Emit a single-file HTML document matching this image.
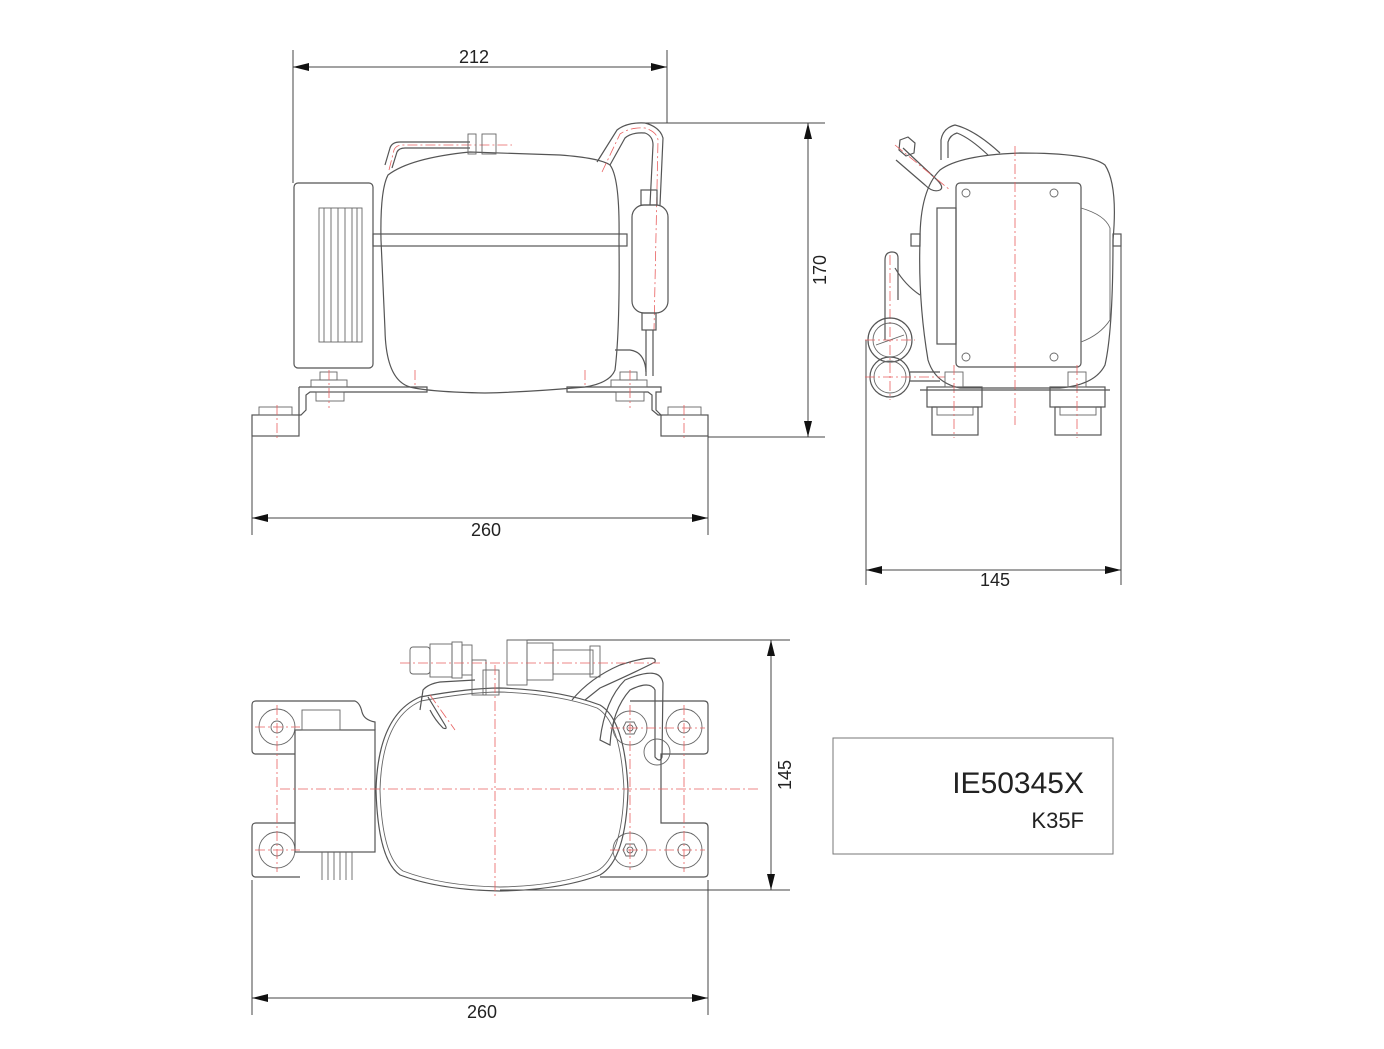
<!DOCTYPE html>
<html><head><meta charset="utf-8"><style>
html,body{margin:0;padding:0;background:#fff;}
svg{display:block;}
.l{fill:none;stroke:#555;stroke-width:1.2;}
.t{fill:none;stroke:#666;stroke-width:0.9;}
.c{fill:none;stroke:#e86060;stroke-width:0.8;stroke-dasharray:10 3 2 3;}
.d{fill:none;stroke:#444;stroke-width:1;}
text{font-family:"Liberation Sans",sans-serif;fill:#222;}
</style></head><body>
<svg width="1384" height="1049" viewBox="0 0 1384 1049" xmlns="http://www.w3.org/2000/svg">
<defs>
<marker id="a" markerWidth="16" markerHeight="8" refX="16" refY="4" orient="auto" markerUnits="userSpaceOnUse"><path d="M0,0 L16,4 L0,8 z" fill="#111"/></marker>
<marker id="b" markerWidth="16" markerHeight="8" refX="0" refY="4" orient="auto" markerUnits="userSpaceOnUse"><path d="M16,0 L0,4 L16,8 z" fill="#111"/></marker>
</defs>

<!-- ============ FRONT VIEW ============ -->
<!-- dims -->
<line class="d" x1="293" y1="50" x2="293" y2="183"/>
<line class="d" x1="667" y1="50" x2="667" y2="123"/>
<line class="d" x1="293" y1="67" x2="667" y2="67" marker-start="url(#b)" marker-end="url(#a)"/>
<text x="474" y="63" font-size="18" text-anchor="middle">212</text>
<line class="d" x1="640" y1="123" x2="825" y2="123"/>
<line class="d" x1="708" y1="437" x2="825" y2="437"/>
<line class="d" x1="808" y1="123" x2="808" y2="437" marker-start="url(#b)" marker-end="url(#a)"/>
<text transform="translate(826,270) rotate(-90)" font-size="18" text-anchor="middle">170</text>
<line class="d" x1="252" y1="415" x2="252" y2="535"/>
<line class="d" x1="708" y1="415" x2="708" y2="535"/>
<line class="d" x1="252" y1="518" x2="708" y2="518" marker-start="url(#b)" marker-end="url(#a)"/>
<text x="486" y="536" font-size="18" text-anchor="middle">260</text>

<!-- terminal box -->
<rect class="l" x="294" y="183" width="79" height="185" rx="4"/>
<rect class="t" x="319" y="208" width="43" height="134"/>
<line class="t" x1="324" y1="208" x2="324" y2="342"/><line class="t" x1="331" y1="208" x2="331" y2="342"/>
<line class="t" x1="338" y1="208" x2="338" y2="342"/><line class="t" x1="345" y1="208" x2="345" y2="342"/>
<line class="t" x1="352" y1="208" x2="352" y2="342"/><line class="t" x1="357" y1="208" x2="357" y2="342"/>
<!-- body -->
<path class="l" d="M388,175 Q410,158 470,152 L560,155 Q600,158 610,165 Q620,178 619,240 Q620,330 615,370 Q610,383 585,387 Q530,392 485,393 Q430,392 410,387 Q386,380 385,330 L381,240 Q380,190 388,175 Z"/>
<rect class="l" x="373" y="234" width="254" height="12"/>
<!-- top pipe + fitting -->
<path class="l" d="M385,165 L390,148 Q392,142 400,142 L470,142"/>
<path class="l" d="M392,168 L397,152 Q399,148 405,148 L470,148"/>
<path class="c" d="M389,170 L394,150 Q396,145 403,145 L512,145"/>
<rect class="t" x="468" y="134" width="8" height="20"/>
<rect class="t" x="482" y="134" width="14" height="20" fill="#ddd"/>
<!-- discharge pipe right -->
<path class="l" d="M597,162 L617,130 Q627,122 645,123 Q660,127 663,138 L660,205"/>
<path class="l" d="M610,165 L625,138 Q632,132 645,133 Q653,136 653,145 L650,205"/>
<path class="c" d="M602,172 L620,134 Q630,127 645,128 Q657,132 658,140 L654,330"/>
<!-- filter drier -->
<rect class="l" x="641" y="190" width="16" height="15"/>
<rect class="l" x="632" y="205" width="36" height="108" rx="12"/>
<rect class="l" x="642" y="313" width="14" height="17"/>
<path class="l" d="M646,330 L646,376 M653,330 L653,376"/>
<path class="l" d="M615,350 L630,350 Q645,352 646,372"/>
<!-- feet -->
<path class="l" d="M299,387 L427,387 L427,392 L310,392 L306,395 L306,410 L301,415 L299,415 L299,387"/>
<path class="l" d="M567,387 L661,387 L661,392 L656,392 L656,410 L661,415 L658,415 L652,410 L652,395 L648,392 L567,392 Z"/>
<rect class="t" x="311" y="380" width="36" height="7"/><rect class="t" x="320" y="372" width="17" height="8"/>
<rect class="t" x="316" y="392" width="28" height="9"/>
<rect class="t" x="611" y="380" width="36" height="7"/><rect class="t" x="620" y="372" width="17" height="8"/>
<rect class="t" x="616" y="392" width="28" height="9"/>
<rect class="l" x="252" y="415" width="47" height="21"/><rect class="t" x="259" y="407" width="33" height="8"/>
<rect class="l" x="661" y="415" width="47" height="21"/><rect class="t" x="668" y="407" width="33" height="8"/>
<line class="c" x1="277" y1="405" x2="277" y2="440"/><line class="c" x1="684" y1="405" x2="684" y2="440"/>
<line class="c" x1="329" y1="370" x2="329" y2="408"/><line class="c" x1="630" y1="370" x2="630" y2="408"/>
<line class="c" x1="415" y1="370" x2="415" y2="386"/><line class="c" x1="585" y1="370" x2="585" y2="386"/>

<!-- ============ SIDE VIEW ============ -->
<line class="d" x1="866" y1="340" x2="866" y2="585"/>
<line class="d" x1="1121" y1="246" x2="1121" y2="585"/>
<line class="d" x1="866" y1="570" x2="1121" y2="570" marker-start="url(#b)" marker-end="url(#a)"/>
<text x="995" y="586" font-size="18" text-anchor="middle">145</text>
<path class="l" d="M940,170 Q960,155 1020,153 Q1090,153 1105,165 Q1118,185 1113,240 Q1113,330 1105,365 Q1095,385 1060,388 L960,388 Q935,383 928,360 Q918,300 920,240 Q920,190 940,170 Z"/>
<rect class="l" x="937" y="208" width="19" height="136"/>
<rect class="l" x="956" y="183" width="125" height="184" rx="4"/>
<circle class="t" cx="966" cy="193" r="4"/><circle class="t" cx="1054" cy="193" r="4"/>
<circle class="t" cx="966" cy="357" r="4"/><circle class="t" cx="1054" cy="357" r="4"/>
<path class="t" d="M1081,208 Q1105,215 1110,228 L1110,320 Q1100,335 1081,342"/>
<rect class="l" x="911" y="234" width="9" height="12"/><rect class="l" x="1113" y="234" width="8" height="12"/>
<path class="l" d="M941,160 L941,140 Q943,128 955,125 Q975,130 1000,153"/>
<path class="l" d="M948,158 L948,142 Q950,135 957,133 Q970,138 988,155"/>
<line class="c" x1="1015" y1="146" x2="1015" y2="425"/>
<path class="l" d="M903,148 L935,178 Q945,187 940,190 Q933,193 925,185 L896,160"/>
<polygon class="l" points="900,140 908,137 915,143 914,153 906,156 899,150"/>
<line class="c" x1="895" y1="145" x2="950" y2="190"/>
<path class="l" d="M885,340 L885,260 Q885,252 892,252 Q898,252 898,258 L898,300"/>
<path class="l" d="M895,268 Q905,285 920,295"/>
<line class="c" x1="890" y1="255" x2="890" y2="400"/>
<circle class="l" cx="890" cy="340" r="22"/><circle class="t" cx="890" cy="340" r="17"/>
<line class="t" x1="876" y1="345" x2="904" y2="335"/>
<circle class="l" cx="890" cy="377" r="20"/><circle class="t" cx="890" cy="377" r="16"/>
<line class="c" x1="865" y1="340" x2="915" y2="340"/><line class="c" x1="865" y1="377" x2="945" y2="377"/>
<line class="l" x1="910" y1="372" x2="940" y2="372"/><line class="l" x1="910" y1="381" x2="940" y2="381"/>
<rect class="l" x="927" y="387" width="55" height="20"/><rect class="l" x="932" y="407" width="46" height="28"/>
<rect class="t" x="937" y="407" width="36" height="8"/>
<rect class="l" x="1050" y="387" width="55" height="20"/><rect class="l" x="1055" y="407" width="46" height="28"/>
<rect class="t" x="1060" y="407" width="36" height="8"/>
<rect class="t" x="945" y="372" width="18" height="15"/><rect class="t" x="1068" y="372" width="18" height="15"/>
<line class="c" x1="954" y1="365" x2="954" y2="438"/><line class="c" x1="1077" y1="365" x2="1077" y2="438"/>
<line class="l" x1="920" y1="390" x2="1110" y2="390"/>

<!-- ============ TOP VIEW ============ -->
<line class="d" x1="507" y1="640" x2="790" y2="640"/>
<line class="d" x1="500" y1="890" x2="790" y2="890"/>
<line class="d" x1="771" y1="640" x2="771" y2="890" marker-start="url(#b)" marker-end="url(#a)"/>
<text transform="translate(791,775) rotate(-90)" font-size="18" text-anchor="middle">145</text>
<line class="d" x1="252" y1="880" x2="252" y2="1015"/>
<line class="d" x1="708" y1="880" x2="708" y2="1015"/>
<line class="d" x1="252" y1="998" x2="708" y2="998" marker-start="url(#b)" marker-end="url(#a)"/>
<text x="482" y="1018" font-size="18" text-anchor="middle">260</text>
<!-- brackets -->
<path class="l" d="M252,705 Q252,701 256,701 L355,701 Q360,703 362,712 Q364,720 375,722 L375,730 M252,705 L252,750 Q252,754 256,754 L295,754"/>
<path class="l" d="M252,827 Q252,823 256,823 L295,823 M252,827 L252,873 Q252,877 256,877 L300,877"/>
<path class="l" d="M630,701 L704,701 Q708,701 708,705 L708,750 Q708,754 704,754 L661,754 L661,823 L704,823 Q708,823 708,827 L708,873 Q708,877 704,877 L600,877"/>
<circle class="t" cx="277" cy="727" r="18"/><circle class="t" cx="277" cy="727" r="6"/>
<circle class="t" cx="277" cy="850" r="18"/><circle class="t" cx="277" cy="850" r="6"/>
<circle class="t" cx="684" cy="727" r="18"/><circle class="t" cx="684" cy="727" r="6"/>
<circle class="t" cx="684" cy="850" r="18"/><circle class="t" cx="684" cy="850" r="6"/>
<circle class="t" cx="630" cy="728" r="17"/><polygon class="t" points="623,728 626,722 634,722 637,728 634,734 626,734"/><circle class="t" cx="630" cy="728" r="3"/>
<circle class="t" cx="630" cy="850" r="17"/><polygon class="t" points="623,850 626,844 634,844 637,850 634,856 626,856"/><circle class="t" cx="630" cy="850" r="3"/>
<!-- terminal box -->
<rect class="l" x="295" y="730" width="80" height="122"/>
<rect class="t" x="302" y="710" width="38" height="20"/>
<path class="t" d="M322,852 L322,880 M328,852 L328,880 M334,852 L334,880 M340,852 L340,880 M346,852 L346,880 M352,852 L352,880"/>
<!-- body -->
<path class="l" d="M420,697 Q470,688 500,688 Q560,690 600,705 Q625,720 628,790 Q626,860 600,875 Q560,890 500,891 Q440,890 400,875 Q378,860 376,790 Q378,715 420,697 Z"/>
<path class="t" d="M421,701 Q470,692 500,692 Q558,694 597,708 Q621,722 624,790 Q622,857 597,871 Q558,886 500,887 Q442,886 403,871 Q382,857 380,790 Q382,718 421,701 Z"/>
<!-- fittings top -->
<rect class="t" x="410" y="647" width="20" height="27" rx="3"/>
<rect class="t" x="430" y="644" width="22" height="33" fill="#e6e6e6"/>
<rect class="t" x="452" y="642" width="10" height="36"/><rect class="t" x="462" y="645" width="10" height="30"/>
<rect class="t" x="472" y="660" width="14" height="35"/><rect class="t" x="483" y="670" width="16" height="25" fill="#ddd"/>
<rect class="t" x="507" y="640" width="20" height="45"/><rect class="t" x="527" y="643" width="26" height="37"/>
<rect class="t" x="553" y="650" width="40" height="24"/><rect class="t" x="590" y="646" width="10" height="31"/>
<path class="l" d="M420,710 L423,690 Q428,684 440,682 L475,680"/>
<path class="l" d="M428,697 L445,725 Q448,730 443,728 Q435,720 430,710"/>
<path class="l" d="M572,700 Q590,678 620,665 Q658,653 655,662 Q640,670 600,688 L585,700"/>
<path class="l" d="M600,740 Q605,700 625,680 Q660,665 663,683 L662,757 Q660,763 655,757 L655,690 Q650,680 630,690 Q612,710 610,745 Z"/>
<circle class="t" cx="657" cy="752" r="13"/>
<!-- centerlines -->
<line class="c" x1="400" y1="663" x2="660" y2="663"/>
<line class="c" x1="495" y1="665" x2="495" y2="898"/>
<line class="c" x1="280" y1="789" x2="760" y2="789"/>
<line class="c" x1="255" y1="727" x2="300" y2="727"/><line class="c" x1="255" y1="850" x2="300" y2="850"/>
<line class="c" x1="610" y1="728" x2="705" y2="728"/><line class="c" x1="610" y1="850" x2="705" y2="850"/>
<line class="c" x1="277" y1="705" x2="277" y2="872"/><line class="c" x1="684" y1="705" x2="684" y2="872"/>
<line class="c" x1="630" y1="705" x2="630" y2="870"/>
<line class="c" x1="430" y1="695" x2="455" y2="730"/>

<!-- label box -->
<rect x="833" y="738" width="280" height="116" fill="none" stroke="#777" stroke-width="1"/>
<text x="1084" y="793" font-size="30" text-anchor="end">IE50345X</text>
<text x="1084" y="828" font-size="22" text-anchor="end">K35F</text>
</svg>
</body></html>
